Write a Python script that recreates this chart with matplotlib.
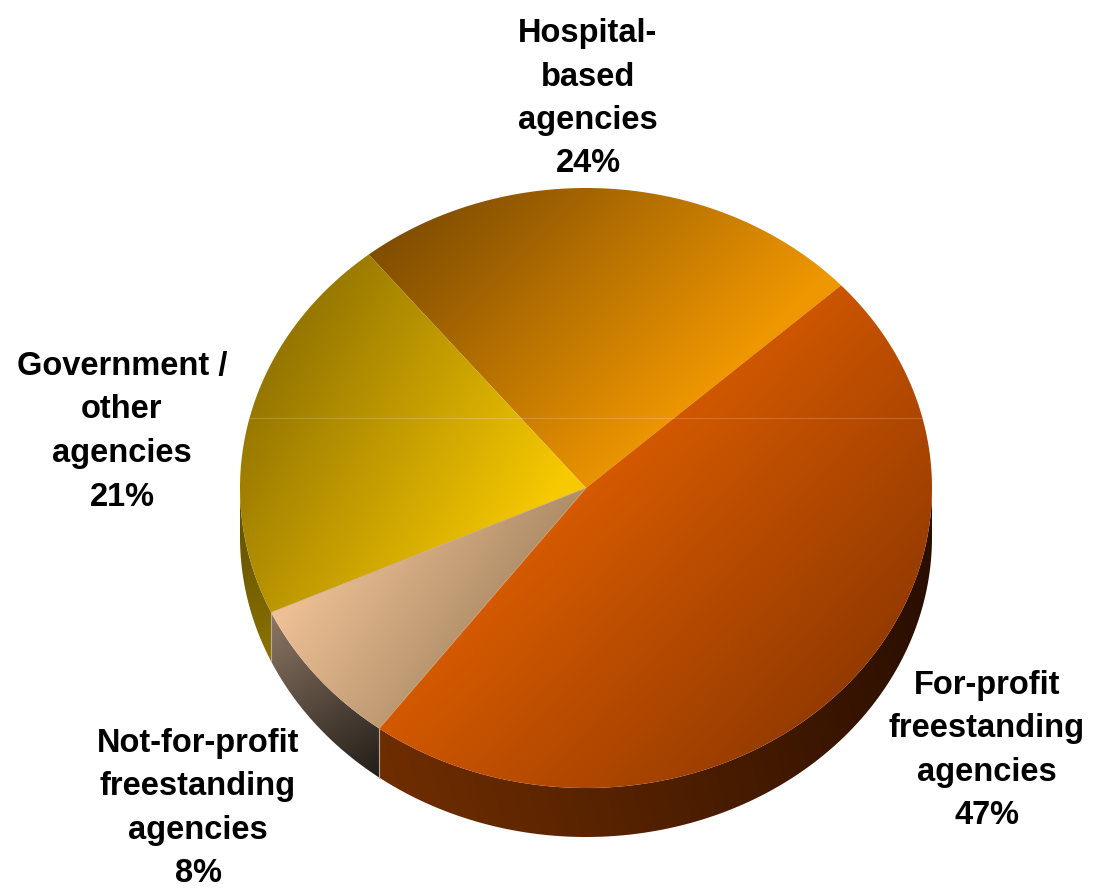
"""
Home health agencies by ownership type: shaded 3-D style pie
"""

import matplotlib
matplotlib.use("Agg")
import matplotlib.pyplot as plt
import numpy as np
from matplotlib.colors import to_rgb
from matplotlib.patches import PathPatch, Ellipse
from matplotlib.path import Path

plt.rcParams.update({
    "font.family": ["Liberation Sans", "DejaVu Sans"],
    "font.weight": "bold",
})

# data
label_lines = [
    ["Hospital-", "based", "agencies"],
    ["Government /", "other", "agencies"],
    ["Not-for-profit", "freestanding", "agencies"],
    ["For-profit", "freestanding", "agencies"],
]
shares = [24, 21, 8, 47]

# top-face gradients: (start point, end point, start colour, end colour)
TOP_SHADE = [
    ((400, 200), (650, 450), "#7a4900", "#ef9700"),
    ((250, 300), (560, 480), "#856800", "#f6c900"),
    ((285, 600), (480, 725), "#efc196", "#a2835f"),
    ((560, 450), (900, 760), "#de5e00", "#833200"),
]
SIDE_SHADE = [
    ((0, 0), (1, 1), "#000000", "#000000"),
    ((240, 500), (272, 660), "#5e4d00", "#8c7300"),
    ((272, 615), (383, 790), "#8c7664", "#1b1713"),
    ((390, 760), (930, 600), "#6e2d00", "#2a0e00"),
]
# label anchor: centre x, first baseline y
LABEL_XY = [(588, 42), (122, 375), (198, 752), (987, 694)]
LINE_STEP = 43.5

W, H = 1103, 890
CX, CY = 586, 488
RX, RY = 346, 300
DEPTH = 49
START = 42.5

yy, xx = np.mgrid[0:H, 0:W] + 0.5


def shade(p0, p1, c0, c1):
    d = np.subtract(p1, p0).astype(float)
    t = ((xx - p0[0]) * d[0] + (yy - p0[1]) * d[1]) / (d @ d)
    t = np.clip(t, 0, 1)[..., None]
    return (1 - t) * np.array(to_rgb(c0)) + t * np.array(to_rgb(c1))


def rim(a0, a1, dy=0.0, n=200):
    t = np.radians(np.linspace(a0, a1, n))
    return np.column_stack([CX + RX * np.cos(t), CY - RY * np.sin(t) + dy])


def fill_gradient(ax, verts, style, z):
    path = Path(np.vstack([verts, verts[:1]]), closed=True)
    patch = PathPatch(path, facecolor="none", edgecolor="none")
    ax.add_patch(patch)
    im = ax.imshow(shade(*style), extent=(0, W, H, 0), zorder=z,
                   interpolation="nearest")
    im.set_clip_path(patch)


def main():
    fig = plt.figure(figsize=(W / 100, H / 100), dpi=100)
    ax = fig.add_axes([0, 0, 1, 1])
    ax.set_xlim(0, W)
    ax.set_ylim(H, 0)
    ax.axis("off")

    edges = START + 3.6 * np.concatenate([[0], np.cumsum(shares)])

    # side wall, only the front half (180..360 deg) is visible
    for i in range(len(shares)):
        a0, a1 = edges[i], edges[i + 1]
        for lo, hi in [(180, 360), (540, 720)]:
            b0, b1 = max(a0, lo), min(a1, hi)
            if b1 <= b0:
                continue
            verts = np.vstack([rim(b0, b1), rim(b1, b0, DEPTH)])
            fill_gradient(ax, verts, SIDE_SHADE[i], 1)

    # seams where slices meet on the wall
    for a in edges[1:-1]:
        if 180 < a % 360 < 360:
            x, y = rim(a, a, n=1)[0]
            ax.plot([x, x], [y, y + DEPTH], color="#b8ab9c", lw=0.8,
                    zorder=2)

    # top face
    for i in range(len(shares)):
        verts = np.vstack([[CX, CY], rim(edges[i], edges[i + 1])])
        fill_gradient(ax, verts, TOP_SHADE[i], 3)

    # thin light boundaries around the small slice
    for a in edges[2:4]:
        x, y = rim(a, a, n=1)[0]
        ax.plot([CX, x], [CY, y], color="#c8a888", lw=0.6, alpha=0.7,
                zorder=4)

    # faint horizontal band across the top face
    face = Ellipse((CX, CY), 2 * RX, 2 * RY, facecolor="none",
                   edgecolor="none")
    ax.add_patch(face)
    band, = ax.plot([CX - RX, CX + RX], [418, 418], color="white",
                    lw=0.8, alpha=0.18, zorder=4)
    band.set_clip_path(face)

    # labels
    for lines, share, (lx, ly) in zip(label_lines, shares, LABEL_XY):
        for k, txt in enumerate(lines + [f"{share}%"]):
            ax.text(lx, ly + k * LINE_STEP, txt, ha="center",
                    va="baseline", fontsize=23.5, fontweight="bold",
                    color="black", zorder=5)

    fig.savefig("out.png", dpi=100)
    plt.close(fig)


if __name__ == "__main__":
    main()
